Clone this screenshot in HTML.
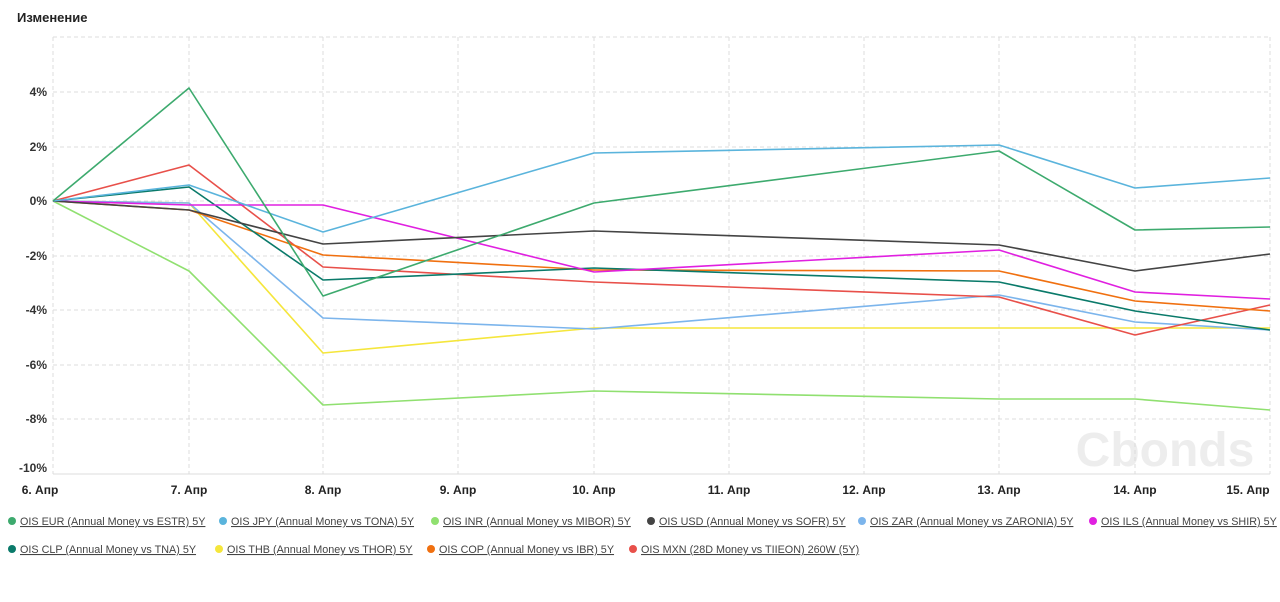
<!DOCTYPE html>
<html><head><meta charset="utf-8"><style>
body{margin:0;background:#fff;width:1280px;height:597px;overflow:hidden;font-family:"Liberation Sans",sans-serif}
</style></head><body>
<svg width="1280" height="597" xmlns="http://www.w3.org/2000/svg" font-family="Liberation Sans, sans-serif">
<text x="17" y="22" font-size="13" font-weight="bold" fill="#222">Изменение</text>
<text x="1165" y="466" font-size="48" font-weight="bold" fill="#ededed" text-anchor="middle">Cbonds</text>
<g stroke="#dcdcdc" stroke-dasharray="4,3" stroke-width="1">
<line x1="53" y1="37" x2="1270" y2="37"/>
<line x1="53" y1="92" x2="1270" y2="92"/>
<line x1="53" y1="147" x2="1270" y2="147"/>
<line x1="53" y1="201" x2="1270" y2="201"/>
<line x1="53" y1="256" x2="1270" y2="256"/>
<line x1="53" y1="310" x2="1270" y2="310"/>
<line x1="53" y1="365" x2="1270" y2="365"/>
<line x1="53" y1="419" x2="1270" y2="419"/>
<line x1="53" y1="37" x2="53" y2="474"/>
<line x1="189" y1="37" x2="189" y2="474"/>
<line x1="323" y1="37" x2="323" y2="474"/>
<line x1="458" y1="37" x2="458" y2="474"/>
<line x1="594" y1="37" x2="594" y2="474"/>
<line x1="729" y1="37" x2="729" y2="474"/>
<line x1="864" y1="37" x2="864" y2="474"/>
<line x1="999" y1="37" x2="999" y2="474"/>
<line x1="1135" y1="37" x2="1135" y2="474"/>
<line x1="1270" y1="37" x2="1270" y2="474"/>
</g>
<line x1="53" y1="474" x2="1270" y2="474" stroke="#ddd"/>
<g font-size="12" font-weight="bold" fill="#333" text-anchor="end">
<text x="47" y="96">4%</text><text x="47" y="151">2%</text><text x="47" y="205">0%</text>
<text x="47" y="260">-2%</text><text x="47" y="314">-4%</text><text x="47" y="369">-6%</text>
<text x="47" y="423">-8%</text><text x="47" y="472">-10%</text>
</g>
<g font-size="12" font-weight="bold" fill="#222" text-anchor="middle">
<text x="40" y="494">6. Апр</text><text x="189" y="494">7. Апр</text><text x="323" y="494">8. Апр</text>
<text x="458" y="494">9. Апр</text><text x="594" y="494">10. Апр</text><text x="729" y="494">11. Апр</text>
<text x="864" y="494">12. Апр</text><text x="999" y="494">13. Апр</text><text x="1135" y="494">14. Апр</text>
<text x="1248" y="494">15. Апр</text>
</g>
<g fill="none" stroke-width="1.6" stroke-linejoin="round">
<polyline stroke="#90e070" points="53,201 189,271 323,405 594,391 999,399 1135,399 1270,410"/>
<polyline stroke="#f5e63c" points="53,201 189,203 323,353 594,328 999,328 1135,328 1270,328"/>
<polyline stroke="#7cb5ec" points="53,201 189,203 323,318 594,329 999,295 1135,322 1270,330"/>
<polyline stroke="#e8504a" points="53,201 189,165 323,267 594,282 999,297 1135,335 1270,305"/>
<polyline stroke="#f07010" points="53,201 189,210 323,255 594,270 999,271 1135,301 1270,311"/>
<polyline stroke="#0a7a6a" points="53,201 189,187 323,280 594,268 999,282 1135,311 1270,330"/>
<polyline stroke="#e020e0" points="53,201 189,205 323,205 594,272 999,250 1135,292 1270,299"/>
<polyline stroke="#444444" points="53,201 189,210 323,244 594,231 999,245 1135,271 1270,254"/>
<polyline stroke="#5ab4dc" points="53,201 189,185 323,232 594,153 999,145 1135,188 1270,178"/>
<polyline stroke="#3daa6e" points="53,201 189,88 323,296 594,203 999,151 1135,230 1270,227"/>
</g>
<g font-size="10.8" fill="#444" text-decoration="underline">
<circle cx="12" cy="521" r="4" fill="#3daa6e"/><text x="20" y="525">OIS EUR (Annual Money vs ESTR) 5Y</text>
<circle cx="223" cy="521" r="4" fill="#5ab4dc"/><text x="231" y="525">OIS JPY (Annual Money vs TONA) 5Y</text>
<circle cx="435" cy="521" r="4" fill="#90e070"/><text x="443" y="525">OIS INR (Annual Money vs MIBOR) 5Y</text>
<circle cx="651" cy="521" r="4" fill="#444"/><text x="659" y="525">OIS USD (Annual Money vs SOFR) 5Y</text>
<circle cx="862" cy="521" r="4" fill="#7cb5ec"/><text x="870" y="525">OIS ZAR (Annual Money vs ZARONIA) 5Y</text>
<circle cx="1093" cy="521" r="4" fill="#e020e0"/><text x="1101" y="525">OIS ILS (Annual Money vs SHIR) 5Y</text>
<circle cx="12" cy="549" r="4" fill="#0a7a6a"/><text x="20" y="553">OIS CLP (Annual Money vs TNA) 5Y</text>
<circle cx="219" cy="549" r="4" fill="#f5e63c"/><text x="227" y="553">OIS THB (Annual Money vs THOR) 5Y</text>
<circle cx="431" cy="549" r="4" fill="#f07010"/><text x="439" y="553">OIS COP (Annual Money vs IBR) 5Y</text>
<circle cx="633" cy="549" r="4" fill="#e8504a"/><text x="641" y="553">OIS MXN (28D Money vs TIIEON) 260W (5Y)</text>
</g>
</svg>
</body></html>
